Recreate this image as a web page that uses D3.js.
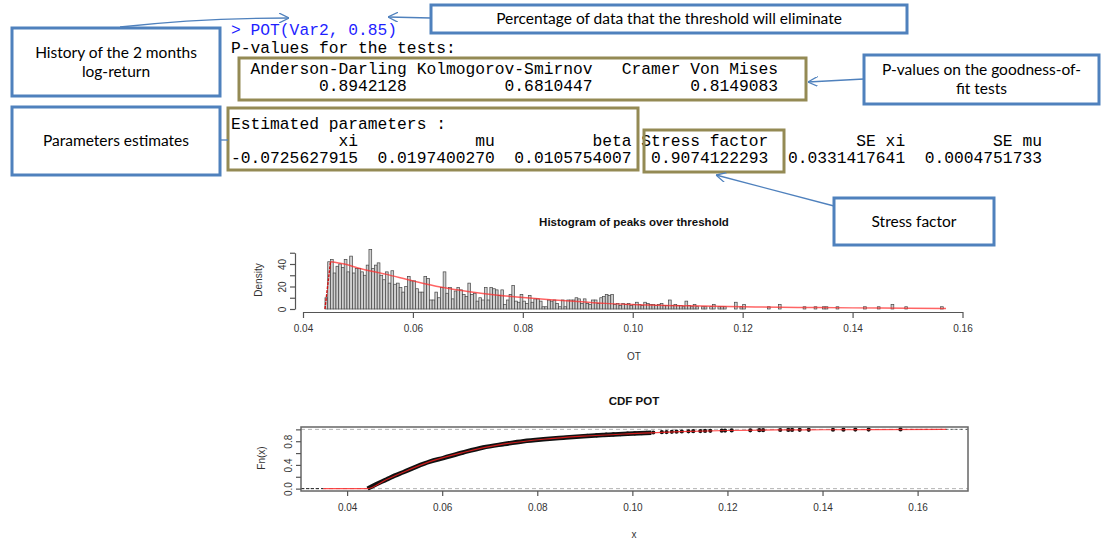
<!DOCTYPE html>
<html><head><meta charset="utf-8">
<script src="https://cdn.jsdelivr.net/npm/d3@7"></script>
<style>body{margin:0;background:#fff}svg{display:block}text{white-space:pre}</style>
</head><body>
<svg id="c" width="1106" height="541"></svg>
<script>
// ---------- DATA ----------
const consoleCommand = "> POT(Var2, 0.85)";
const pvalHeader = "P-values for the tests:";
const testNames = ["Anderson-Darling", "Kolmogorov-Smirnov", "Cramer Von Mises"];
const testPValues = ["0.8942128", "0.6810447", "0.8149083"];
const paramHeader = "Estimated parameters :";
const paramNames = ["xi", "mu", "beta", "Stress factor", "SE xi", "SE mu"];
const paramValues = ["-0.0725627915", "0.0197400270", "0.0105754007", "0.9074122293", "0.0331417641", "0.0004751733"];

const histTitle = "Histogram of peaks over threshold";
const histXLabel = "OT";
const histYLabel = "Density";
const histXTicks = [0.04, 0.06, 0.08, 0.10, 0.12, 0.14, 0.16];
const histYTicks = [0, 10, 20, 30, 40, 50];
const histYLabels = [0, 20, 40];
const histFirstBreak = 0.044;
const histBinWidth = 0.0005;
const histDensity = [
 10,42,44,32,38,40,37,44,33,47,
 32,36,36,33,30,39,53,36,39,41,
 30,26,33,23,34,22,23,19,15,20,
 29,25,25,18,15,15,29,27,8,8,
 15,10,19,33,14,19,9,16,19,17,
 13,11,23,13,14,7,10,8,19,8,
 19,18,17,12,17,4,8,13,21,7,
 6,13,7,5,12,6,9,9,7,2,
 2,8,7,8,5,2,8,2,8,8,
 8,10,9,5,9,5,4,8,8,5,
 10,11,13,12,13,4,5,3,5,4,
 5,3,4,6,4,3,6,5,4,4,
 3,4,5,3,3,8,3,4,3,3,
 2,7,3,2,4,2,0,2,2,0,
 2,4,0,2,2,2,0,0,0,6,
 0,2,4,0,0,0,0,0,0,0,
 0,2,0,0,0,4,0,0,0,0,
 0,0,0,0,2,0,0,0,2,0,
 0,2,2,0,0,0,2,0,0,0,
 0,0,0,0,0,0,2,0,0,0,
 0,2,0,0,0,0,4,0,0,0,
 0,2,0,0,0,0,0,0,0,0,
 0,0,0,0,2
];
const densityCurveX = [0.0440,0.0450,0.0475,0.050,0.055,0.060,0.065,0.070,0.075,0.080,0.085,0.090,0.095,0.100,0.110,0.120,0.130,0.140,0.150,0.157];
const densityCurveY = [0,42,40,36.5,31,25,19.5,15.5,12.5,10.3,8.3,6.7,5.0,4.0,2.8,2.0,1.4,1.0,0.7,0.5];

const cdfTitle = "CDF POT";
const cdfXLabel = "x";
const cdfYLabel = "Fn(x)";
const cdfXLimits = [0.0303, 0.1706];
const cdfYLimits = [-0.04, 1.04];
const cdfXTicks = [0.04, 0.06, 0.08, 0.10, 0.12, 0.14, 0.16];
const cdfYTicks = [0, 0.2, 0.4, 0.6, 0.8, 1.0];
const cdfYLabels = [0, 0.4, 0.8];
const ecdfDenseX = [0.0443,0.0460,0.0483,0.0500,0.0518,0.0546,0.0574,0.0602,0.0644,0.0686,0.0728,0.0771,0.0813,0.0855,0.0897,0.0940,0.0990,0.1040];
const ecdfDenseY = [0,0.07,0.155,0.22,0.277,0.372,0.455,0.516,0.61,0.694,0.75,0.80,0.833,0.86,0.885,0.905,0.925,0.945];
const ecdfTailX = [0.0905,0.0925,0.0945,0.0960,0.0975,0.0990,0.1005,0.1020,0.1030,0.1044,0.1062,0.1072,0.1083,0.1093,0.1104,0.1118,0.1128,0.1143,0.1153,0.1164,0.1188,0.1195,0.1209,0.1248,0.1267,0.1275,0.1311,0.1328,0.1336,0.1352,0.1371,0.1422,0.1444,0.1469,0.1497,0.1564];
const ecdfTailY = [0.89,0.90,0.91,0.915,0.92,0.927,0.933,0.938,0.942,0.947,0.952,0.955,0.958,0.961,0.964,0.967,0.969,0.971,0.973,0.975,0.978,0.980,0.982,0.984,0.986,0.987,0.989,0.990,0.991,0.992,0.993,0.994,0.995,0.996,0.997,0.999];
const fitCdfX = [0.035,0.0443,0.0483,0.0518,0.0574,0.0644,0.0728,0.0813,0.0897,0.0990,0.110,0.120,0.130,0.140,0.150,0.166];
const fitCdfY = [0,0,0.155,0.277,0.455,0.61,0.75,0.833,0.885,0.925,0.962,0.981,0.990,0.994,0.997,0.999];

const noteHistory = ["History of the 2 months", "log-return"];
const notePercent = ["Percentage of data that the threshold will eliminate"];
const notePvals = ["P-values on the goodness-of-", "fit tests"];
const noteParams = ["Parameters estimates"];
const noteStress = ["Stress factor"];

// ---------- DRAW ----------
const svg = d3.select("#c");
svg.append("rect").attr("width",1106).attr("height",541).attr("fill","#fff");

const MONO = "'Liberation Mono','DejaVu Sans Mono',monospace";
const SANS = "'Liberation Sans',Arial,sans-serif";
const NOTE = "Lato,'Open Sans',sans-serif";
const monoSize = 16.3;
const cx0 = 231;

function pad(s, w) { s = String(s); while (s.length < w) s = " " + s; return s; }

const testW = testNames.map(n => n.length);
const line3 = "  " + testNames.map((n,i)=> pad(n, testW[i])).join(" ").replace("Smirnov Cramer","Smirnov   Cramer");
const line4 = "  " + testPValues.map((v,i)=> pad(v, testW[i])).join(" ").replace(/(0\.6810447) /,"$1   ");
const colW = 13;
const line6 = paramNames.map(n => pad(n, colW)).join(" ");
const line7 = paramValues.map(v => pad(v, colW)).join(" ");

const lines = [
  {t: consoleCommand, y: 35, c: "#1f1fff"},
  {t: pvalHeader, y: 53, c: "#000"},
  {t: line3, y: 74, c: "#000"},
  {t: line4, y: 91, c: "#000"},
  {t: paramHeader, y: 129, c: "#000"},
  {t: line6, y: 146, c: "#000"},
  {t: line7, y: 163, c: "#000"}
];
svg.append("g").selectAll("text").data(lines).join("text")
  .attr("x", cx0).attr("y", d => d.y).attr("fill", d => d.c)
  .attr("font-family", MONO).attr("font-size", monoSize)
  .attr("xml:space","preserve").text(d => d.t);

const olive = "#948a54";
const oliveBoxes = [[239,58,567,42],[228,108,410,62],[644,130,140,42]];
svg.append("g").selectAll("rect").data(oliveBoxes).join("rect")
  .attr("x",d=>d[0]).attr("y",d=>d[1]).attr("width",d=>d[2]).attr("height",d=>d[3])
  .attr("fill","none").attr("stroke",olive).attr("stroke-width",3);

const blue = "#4f81bd";
const notes = [
  {x:12,y:28,w:208,h:68,lines:noteHistory},
  {x:431,y:5,w:476,h:28,lines:notePercent},
  {x:864,y:55,w:235,h:49,lines:notePvals},
  {x:12,y:107,w:208,h:68,lines:noteParams},
  {x:834,y:198,w:160,h:47,lines:noteStress}
];
const ng = svg.append("g");
notes.forEach(n => {
  ng.append("rect").attr("x",n.x).attr("y",n.y).attr("width",n.w).attr("height",n.h)
    .attr("fill","#fff").attr("stroke",blue).attr("stroke-width",3);
  const lh = 19;
  const y0 = n.y + n.h/2 - (n.lines.length-1)*lh/2;
  n.lines.forEach((l,i) => {
    ng.append("text").attr("x", n.x + n.w/2).attr("y", y0 + i*lh).attr("dy","0.35em")
      .attr("text-anchor","middle").attr("font-family",NOTE).attr("font-size",15.5)
      .attr("fill","#000").text(l);
  });
});

const defs = svg.append("defs");
defs.append("marker").attr("id","ah").attr("viewBox","0 0 10 10").attr("refX",10).attr("refY",5)
  .attr("markerWidth",10).attr("markerHeight",10).attr("orient","auto").attr("markerUnits","userSpaceOnUse")
  .append("path").attr("d","M0,0 L10,5 L0,10").attr("fill","none").attr("stroke",blue).attr("stroke-width",1.3);
const arrows = [
  {d:"M120,27 Q200,18 289,18", m:true},
  {d:"M431,18 L388,17", m:true},
  {d:"M864,79 L808,82", m:true},
  {d:"M834,206 L716,175", m:true},
  {d:"M220,140 L228,140", m:false}
];
svg.append("g").selectAll("path").data(arrows).join("path")
  .attr("d",d=>d.d).attr("fill","none").attr("stroke",blue).attr("stroke-width",1.3)
  .attr("marker-end",d=>d.m?"url(#ah)":null);

// ---------- HISTOGRAM ----------
const hx = d3.scaleLinear().domain([0.04,0.16]).range([303,962.5]);
const hy = d3.scaleLinear().domain([0,50]).range([309,252.75]);
const hg = svg.append("g");
hg.append("text").attr("x",634).attr("y",226).attr("text-anchor","middle")
  .attr("font-family",SANS).attr("font-weight","bold").attr("font-size",11.5).attr("fill","#111").text(histTitle);

const bins = histDensity.map((d,i) => ({x0: histFirstBreak + i*histBinWidth, x1: histFirstBreak + (i+1)*histBinWidth, d}));
hg.append("g").selectAll("rect").data(bins).join("rect")
  .attr("x", b => hx(b.x0)).attr("y", b => hy(b.d))
  .attr("width", b => hx(b.x1)-hx(b.x0)).attr("height", b => hy(0)-hy(b.d))
  .attr("fill","#d0d0d0").attr("stroke","#444").attr("stroke-width",0.7);

const dline = d3.line().x(d=>hx(d[0])).y(d=>hy(d[1])).curve(d3.curveMonotoneX);
const dpts = densityCurveX.map((x,i)=>[x,densityCurveY[i]]);
hg.append("path").attr("d", d3.line().x(d=>hx(d[0])).y(d=>hy(d[1]))(dpts.slice(0,2)))
  .attr("fill","none").attr("stroke","#d01010").attr("stroke-width",1.4).attr("stroke-dasharray","3,1");
hg.append("path").attr("d", dline(dpts.slice(1))).attr("fill","none")
  .attr("stroke","#ff3030").attr("stroke-opacity",0.75).attr("stroke-width",1.5);

const hxAxis = hg.append("g").attr("transform","translate(0,312)")
  .call(d3.axisBottom(hx).tickValues(histXTicks).tickSize(6).tickSizeOuter(0).tickPadding(7).tickFormat(d3.format(".2f")));
const hyAxis = hg.append("g").attr("transform","translate(295,0)")
  .call(d3.axisLeft(hy).tickValues(histYTicks).tickSize(5).tickSizeOuter(0)
    .tickFormat(d => histYLabels.includes(d) ? String(d) : ""));
[hxAxis, hyAxis].forEach(a => {
  a.selectAll("path,line").attr("stroke","#555").attr("stroke-width",1.2);
  a.selectAll("text").attr("font-family",SANS).attr("font-size",10).attr("fill","#333");
});
hyAxis.selectAll("text").attr("transform","rotate(-90)")
  .attr("x", 0).attr("y", -9).attr("dy", 0).attr("text-anchor","middle");
hg.append("text").attr("transform","translate(262,280) rotate(-90)").attr("text-anchor","middle")
  .attr("font-family",SANS).attr("font-size",10).attr("fill","#333").text(histYLabel);
hg.append("text").attr("x",634).attr("y",360).attr("text-anchor","middle")
  .attr("font-family",SANS).attr("font-size",10).attr("fill","#333").text(histXLabel);

// ---------- CDF ----------
const cx = d3.scaleLinear().domain(cdfXLimits).range([301,968]);
const cy = d3.scaleLinear().domain(cdfYLimits).range([491,427]);
const cg = svg.append("g");
cg.append("text").attr("x",634).attr("y",405).attr("text-anchor","middle")
  .attr("font-family",SANS).attr("font-weight","bold").attr("font-size",11.5).attr("fill","#111").text(cdfTitle);

[0,1].forEach(v => cg.append("line").attr("x1",cx(cdfXLimits[0])).attr("x2",cx(cdfXLimits[1]))
  .attr("y1",cy(v)).attr("y2",cy(v)).attr("stroke","#b3b3b3").attr("stroke-width",1).attr("stroke-dasharray","4,3"));

cg.append("line").attr("x1",cx(cdfXLimits[0])).attr("x2",cx(fitCdfX[0])).attr("y1",cy(0)).attr("y2",cy(0))
  .attr("stroke","#222").attr("stroke-width",1).attr("stroke-dasharray","3,2");
cg.append("line").attr("x1",cx(ecdfTailX[ecdfTailX.length-1])).attr("x2",cx(cdfXLimits[1])).attr("y1",cy(1)).attr("y2",cy(1))
  .attr("stroke","#555").attr("stroke-width",1).attr("stroke-dasharray","2,3");

const cl = d3.line().x(d=>cx(d[0])).y(d=>cy(d[1])).curve(d3.curveMonotoneX);
cg.append("path").attr("d", cl(ecdfDenseX.map((x,i)=>[x,ecdfDenseY[i]])))
  .attr("fill","none").attr("stroke","#111").attr("stroke-width",4.5);
cg.append("g").selectAll("circle").data(ecdfTailX.map((x,i)=>[x,ecdfTailY[i]])).join("circle")
  .attr("cx",d=>cx(d[0])).attr("cy",d=>cy(d[1])).attr("r",2.1).attr("fill","#111");
cg.append("path").attr("d", cl(fitCdfX.map((x,i)=>[x,fitCdfY[i]])))
  .attr("fill","none").attr("stroke","#ff2020").attr("stroke-opacity",0.8).attr("stroke-width",1.2);

cg.append("rect").attr("x",301).attr("y",427).attr("width",667).attr("height",64)
  .attr("fill","none").attr("stroke","#666").attr("stroke-width",1.5);

const cxAxis = cg.append("g").attr("transform","translate(0,491)")
  .call(d3.axisBottom(cx).tickValues(cdfXTicks).tickSize(5).tickSizeOuter(0).tickPadding(8).tickFormat(d3.format(".2f")));
cxAxis.select(".domain").remove();
const cyAxis = cg.append("g").attr("transform","translate(301,0)")
  .call(d3.axisLeft(cy).tickValues(cdfYTicks).tickSize(5).tickSizeOuter(0)
    .tickFormat(d => cdfYLabels.some(v=>Math.abs(v-d)<1e-9) ? d3.format(".1f")(d) : ""));
cyAxis.select(".domain").remove();
[cxAxis, cyAxis].forEach(a => {
  a.selectAll("line").attr("stroke","#555").attr("stroke-width",1.2);
  a.selectAll("text").attr("font-family",SANS).attr("font-size",10).attr("fill","#333");
});
cyAxis.selectAll("text").attr("transform","rotate(-90)")
  .attr("x", 0).attr("y", -9).attr("dy", 0).attr("text-anchor","middle");
cg.append("text").attr("transform","translate(265,458) rotate(-90)").attr("text-anchor","middle")
  .attr("font-family",SANS).attr("font-size",10).attr("fill","#333").text(cdfYLabel);
cg.append("text").attr("x",634).attr("y",538).attr("text-anchor","middle")
  .attr("font-family",SANS).attr("font-size",10).attr("fill","#333").text(cdfXLabel);
</script>
</body></html>
